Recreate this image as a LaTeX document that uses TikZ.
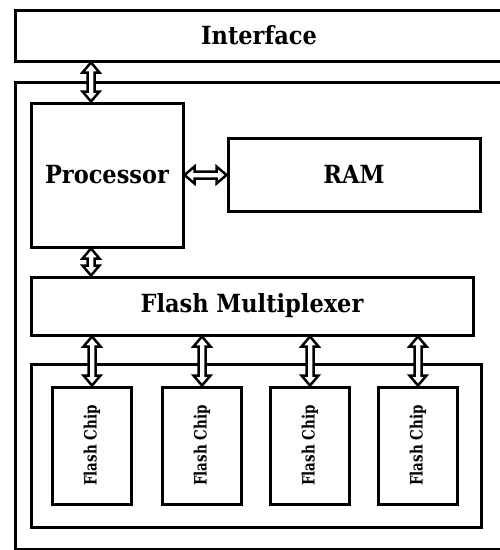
\documentclass[tikz,border=0pt]{standalone}
\usepackage{fontspec}
\usepackage{graphicx}
\setmainfont{DejaVu Serif Condensed}
\usetikzlibrary{calc}
\newcommand{\chiptext}{\scalebox{0.88}[1]{Flash Chip}}
\tikzset{
  box/.style={draw, line width=3pt, rectangle, inner sep=0pt, font=\fontsize{25}{29}\selectfont\bfseries},
  chip/.style={box, minimum width=79, minimum height=117},
  chiplabel/.style={rotate=90, font=\fontsize{17}{20}\selectfont\bfseries, inner sep=0pt},
  vdbl/.style={draw, line width=2.5pt, fill=white, line join=miter,
    to path={let \p1=(\tikztostart), \p2=(\tikztotarget) in
      (\x1,\y1) -- (\x1+8.5pt,\y1-10pt) -- (\x1+3.5pt,\y1-10pt) -- (\x1+3.5pt,\y2+10pt)
      -- (\x1+8.5pt,\y2+10pt) -- (\x1,\y2) -- (\x1-8.5pt,\y2+10pt) -- (\x1-3.5pt,\y2+10pt)
      -- (\x1-3.5pt,\y1-10pt) -- (\x1-8.5pt,\y1-10pt) -- cycle}},
  hdbl/.style={draw, line width=2.5pt, fill=white, line join=miter,
    to path={let \p1=(\tikztostart), \p2=(\tikztotarget) in
      (\x1,\y1) -- (\x1+10pt,\y1+8.5pt) -- (\x1+10pt,\y1+3.5pt) -- (\x2-10pt,\y1+3.5pt)
      -- (\x2-10pt,\y1+8.5pt) -- (\x2,\y1) -- (\x2-10pt,\y1-8.5pt) -- (\x2-10pt,\y1-3.5pt)
      -- (\x1+10pt,\y1-3.5pt) -- (\x1+10pt,\y1-8.5pt) -- cycle}}
}
\begin{document}
\begin{tikzpicture}[x=1pt,y=-1pt]
\useasboundingbox (0,0) rectangle (500,550);
\fill[white] (0,0) rectangle (500,550);
\clip (0,0) rectangle (500,550);
% boxes
\node[box, minimum width=488, minimum height=51] (iface) at (259,35.5) {Interface};
\node[box, minimum width=488, minimum height=467] (board) at (259,315.5) {};
\node[box, minimum width=152, minimum height=144] (proc) at (107,175) {Processor};
\node[box, minimum width=252, minimum height=73] (ram) at (354,174.5) {RAM};
\node[box, minimum width=442, minimum height=58] (mux) at (252,306) {Flash Multiplexer};
\node[box, minimum width=450, minimum height=163] (bank) at (256,445.5) {};
\node[chip] (chip1) at (92,445.5) {};
\node[chip] (chip2) at (202,445.5) {};
\node[chip] (chip3) at (310,445.5) {};
\node[chip] (chip4) at (418,445.5) {};
\node[chiplabel] (l1) at (chip1) {\chiptext};
\node[chiplabel] (l2) at (chip2) {\chiptext};
\node[chiplabel] (l3) at (chip3) {\chiptext};
\node[chiplabel] (l4) at (chip4) {\chiptext};
% connectors
\coordinate (col) at (91,0);
\draw[vdbl] (iface.south -| col) to (proc.north -| col);
\draw[vdbl] (proc.south -| col) to (mux.north -| col);
\draw[hdbl] (proc.east) to (proc.east -| ram.west);
\draw[vdbl] (mux.south -| chip1) to (chip1.north);
\draw[vdbl] (mux.south -| chip2) to (chip2.north);
\draw[vdbl] (mux.south -| chip3) to (chip3.north);
\draw[vdbl] (mux.south -| chip4) to (chip4.north);
\end{tikzpicture}
\end{document}
